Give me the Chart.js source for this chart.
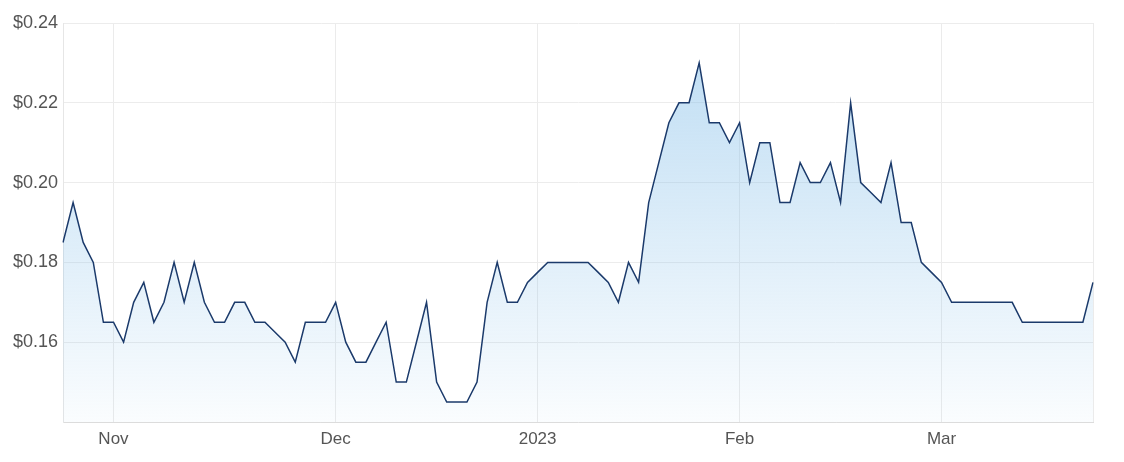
<!DOCTYPE html>
<html>
<head>
<meta charset="utf-8">
<script src="https://cdn.jsdelivr.net/npm/chart.js@4/dist/chart.umd.min.js"></script>
<style>
  html, body { margin: 0; padding: 0; background: #fff; }
  #wrap { width: 1124px; height: 462px; position: relative; }
</style>
</head>
<body>
<div id="wrap"><canvas id="priceChart"></canvas></div>
<script>
// trading days (ASX), Oct 2022 - Mar 2023
const tradingDays = [
  '2022-10-25','2022-10-26','2022-10-27','2022-10-28','2022-10-31',
  '2022-11-01','2022-11-02','2022-11-03','2022-11-04','2022-11-07','2022-11-08','2022-11-09','2022-11-10','2022-11-11',
  '2022-11-14','2022-11-15','2022-11-16','2022-11-17','2022-11-18','2022-11-21','2022-11-22','2022-11-23','2022-11-24',
  '2022-11-25','2022-11-28','2022-11-29','2022-11-30',
  '2022-12-01','2022-12-02','2022-12-05','2022-12-06','2022-12-07','2022-12-08','2022-12-09','2022-12-12','2022-12-13',
  '2022-12-14','2022-12-15','2022-12-16','2022-12-19','2022-12-20','2022-12-21','2022-12-22','2022-12-23','2022-12-28',
  '2022-12-29','2022-12-30',
  '2023-01-03','2023-01-04','2023-01-05','2023-01-06','2023-01-09','2023-01-10','2023-01-11','2023-01-12','2023-01-13',
  '2023-01-16','2023-01-17','2023-01-18','2023-01-19','2023-01-20','2023-01-23','2023-01-24','2023-01-25','2023-01-27',
  '2023-01-30','2023-01-31',
  '2023-02-01','2023-02-02','2023-02-03','2023-02-06','2023-02-07','2023-02-08','2023-02-09','2023-02-10','2023-02-13',
  '2023-02-14','2023-02-15','2023-02-16','2023-02-17','2023-02-20','2023-02-21','2023-02-22','2023-02-23','2023-02-24',
  '2023-02-27','2023-02-28',
  '2023-03-01','2023-03-02','2023-03-03','2023-03-06','2023-03-07','2023-03-08','2023-03-09','2023-03-10','2023-03-13',
  '2023-03-14','2023-03-15','2023-03-16','2023-03-17','2023-03-20','2023-03-21','2023-03-22'
];

// closing prices, one per trading day
const closePrices = [
  0.185, 0.195, 0.185, 0.18, 0.165,
  0.165, 0.16, 0.17, 0.175, 0.165, 0.17, 0.18, 0.17, 0.18,
  0.17, 0.165, 0.165, 0.17, 0.17, 0.165, 0.165, 0.1625, 0.16,
  0.155, 0.165, 0.165, 0.165,
  0.17, 0.16, 0.155, 0.155, 0.16, 0.165, 0.15, 0.15, 0.16,
  0.17, 0.15, 0.145, 0.145, 0.145, 0.15, 0.17, 0.18, 0.17,
  0.17, 0.175,
  0.1775, 0.18, 0.18, 0.18, 0.18, 0.18, 0.1775, 0.175, 0.17,
  0.18, 0.175, 0.195, 0.205, 0.215, 0.22, 0.22, 0.23, 0.215,
  0.215, 0.21,
  0.215, 0.2, 0.21, 0.21, 0.195, 0.195, 0.205, 0.2, 0.2,
  0.205, 0.195, 0.22, 0.2, 0.1975, 0.195, 0.205, 0.19, 0.19,
  0.18, 0.1775,
  0.175, 0.17, 0.17, 0.17, 0.17, 0.17, 0.17, 0.17, 0.165,
  0.165, 0.165, 0.165, 0.165, 0.165, 0.165, 0.175
];

const monthNames = ['Jan','Feb','Mar','Apr','May','Jun','Jul','Aug','Sep','Oct','Nov','Dec'];
const yTicks = [0.14, 0.16, 0.18, 0.20, 0.22, 0.24];

// label only the first trading day of each month
function monthLabel(i) {
  const d = tradingDays[i];
  const prev = tradingDays[i - 1];
  if (!prev || prev.slice(0, 7) === d.slice(0, 7)) return '';
  const m = parseInt(d.slice(5, 7), 10);
  return m === 1 ? d.slice(0, 4) : monthNames[m - 1];
}

const ctx = document.getElementById('priceChart').getContext('2d');

new Chart(ctx, {
  type: 'line',
  data: {
    labels: tradingDays,
    datasets: [{
      data: closePrices,
      borderColor: '#1b3a6b',
      borderWidth: 1.5,
      pointRadius: 0,
      tension: 0,
      fill: 'start',
      backgroundColor: (context) => {
        const area = context.chart.chartArea;
        if (!area) return 'rgba(133,191,233,0.4)';
        const g = context.chart.ctx.createLinearGradient(0, area.top, 0, area.bottom);
        g.addColorStop(0, 'rgba(133,191,233,0.55)');
        g.addColorStop(1, 'rgba(133,191,233,0.04)');
        return g;
      }
    }]
  },
  options: {
    responsive: true,
    maintainAspectRatio: false,
    animation: false,
    layout: { padding: { top: 23, right: 31, left: 0, bottom: 0 } },
    plugins: {
      legend: { display: false },
      tooltip: { enabled: false }
    },
    scales: {
      x: {
        type: 'category',
        offset: false,
        grid: {
          drawTicks: false,
          color: (c) => {
            const i = c.index;
            if (i === tradingDays.length - 1) return '#ebebeb';
            return monthLabel(i) ? '#ebebeb' : 'rgba(0,0,0,0)';
          }
        },
        border: { color: '#dcdcdc' },
        ticks: {
          autoSkip: false,
          maxRotation: 0,
          padding: 7,
          color: '#555',
          font: { family: '"Liberation Sans", Arial, sans-serif', size: 17 },
          callback: (val, i) => monthLabel(i)
        },
        afterFit: (axis) => { axis.height = 40; }
      },
      y: {
        min: 0.14,
        max: 0.24,
        afterBuildTicks: (axis) => { axis.ticks = yTicks.map(v => ({ value: v })); },
        grid: { drawTicks: false, color: '#ececec' },
        border: { color: '#e6e6e6' },
        ticks: {
          padding: 5,
          color: '#555',
          font: { family: '"Liberation Sans", Arial, sans-serif', size: 18 },
          callback: (v) => v <= 0.141 ? '' : '$' + v.toFixed(2)
        },
        afterFit: (axis) => { axis.width = 63; }
      }
    }
  }
});
</script>
</body>
</html>
